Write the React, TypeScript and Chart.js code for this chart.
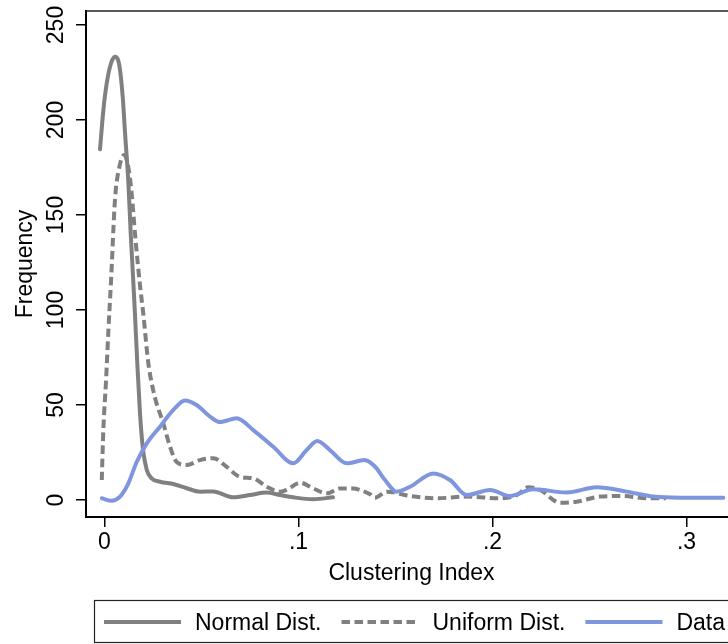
import React, { useEffect, useRef } from "react";
import { Chart, registerables } from "chart.js";

Chart.register(...registerables);

// Kernel-density style curves of the clustering index
const normalX = [-0.0023, -0.0006, 0.0011, 0.0034, 0.0054, 0.0076, 0.0094, 0.0106, 0.0123, 0.0135, 0.0148, 0.0157, 0.0169, 0.0183, 0.0197, 0.0218, 0.0243, 0.0286, 0.0355, 0.0424, 0.0492, 0.056, 0.0662, 0.075, 0.0836, 0.0905, 0.0973, 0.1075, 0.1178];
const normalY = [184.6, 205, 219, 230, 233.3, 229, 212, 193, 167, 140.5, 115.8, 98, 72, 45.6, 28, 15.8, 11.4, 9.6, 8.4, 6.2, 4.4, 4.5, 1.4, 2.6, 3.9, 2.6, 1.4, 0.4, 1.4];

const uniformX = [-0.0014, -0.0006, 0.0008, 0.002, 0.0034, 0.0054, 0.0076, 0.0101, 0.0123, 0.014, 0.0157, 0.0183, 0.02, 0.0226, 0.026, 0.0303, 0.0338, 0.0372, 0.0424, 0.0492, 0.0561, 0.063, 0.0698, 0.0767, 0.0836, 0.0905, 0.0939, 0.1008, 0.1076, 0.1145, 0.1214, 0.1282, 0.1317, 0.1369, 0.1394, 0.1455, 0.1575, 0.1712, 0.1867, 0.2039, 0.2125, 0.2185, 0.2245, 0.2348, 0.2434, 0.2554, 0.2674, 0.2795, 0.2894];
const uniformY = [10.5, 36.8, 63, 89, 116, 158, 175, 181.6, 175, 161.4, 140.4, 113, 98, 72, 54, 40.4, 28, 20, 18.4, 21, 22, 17.4, 12.2, 11.4, 7, 4.4, 5.3, 9.1, 6.1, 3.5, 6.1, 6.1, 5.3, 3, 1.2, 4.4, 2.1, 0.9, 1.8, 0.9, 2.6, 6.7, 5.3, -1.4, -0.9, 1.8, 2.1, 0.9, 0.9];

const dataX = [-0.0014, 0.0037, 0.008, 0.0123, 0.0166, 0.0218, 0.0286, 0.0355, 0.0415, 0.0475, 0.0544, 0.0595, 0.0681, 0.0767, 0.087, 0.0973, 0.1042, 0.1097, 0.1162, 0.1248, 0.134, 0.1395, 0.1446, 0.1506, 0.1575, 0.1695, 0.1781, 0.1867, 0.1987, 0.209, 0.221, 0.2382, 0.2537, 0.2692, 0.2829, 0.2966, 0.319];
const dataY = [0.9, -0.4, 1.8, 8.8, 20, 29.8, 38.6, 47.4, 52.4, 50, 43.9, 41, 43, 36.8, 28, 19.3, 26.3, 31, 26.3, 19.3, 21, 17.5, 10.5, 4.4, 7, 14, 10.5, 2.6, 5.3, 2.1, 5.6, 4, 6.7, 4.4, 1.8, 1.2, 1.2];

const seriesNames = ["Normal Dist.", "Uniform Dist.", "Data"];
const xTicks = [0, 0.1, 0.2, 0.3];
const xTickLabels = ["0", ".1", ".2", ".3"];
const yTicks = [0, 50, 100, 150, 200, 250];
const yTickLabels = ["0", "50", "100", "150", "200", "250"];
const xTitle = "Clustering Index";
const yTitle = "Frequency";

const GRAY = "#808080";
const BLUE = "rgb(127,150,222)";
const FONT = '23px "Liberation Sans", Arial, sans-serif';
const DASH = [8.5, 4.5];

const toPoints = (xs: number[], ys: number[]) => xs.map((x, i) => ({ x, y: ys[i] }));

// Rotated y labels, axis titles, frame top and the boxed legend
const annotations = {
  id: "annotations",
  afterDraw(chart: any) {
    const ctx = chart.ctx as CanvasRenderingContext2D;
    const xs = chart.scales.x;
    const ys = chart.scales.y;
    const area = chart.chartArea;
    ctx.save();

    // top edge of the plot region
    ctx.strokeStyle = "#222";
    ctx.lineWidth = 1.5;
    ctx.beginPath();
    ctx.moveTo(area.left, area.top);
    ctx.lineTo(chart.width + 10, area.top);
    ctx.stroke();

    ctx.fillStyle = "#000";
    ctx.font = FONT;
    ctx.textAlign = "center";
    ctx.textBaseline = "alphabetic";

    xTicks.forEach((v, i) => {
      ctx.fillText(xTickLabels[i], xs.getPixelForValue(v), 548.5);
    });

    yTicks.forEach((v, i) => {
      ctx.save();
      ctx.translate(63, ys.getPixelForValue(v));
      ctx.rotate(-Math.PI / 2);
      ctx.fillText(yTickLabels[i], 0, 0);
      ctx.restore();
    });

    ctx.fillText(xTitle, 411.5, 580);

    ctx.save();
    ctx.translate(31.5, (area.top + area.bottom) / 2);
    ctx.rotate(-Math.PI / 2);
    ctx.fillText(yTitle, 0, 0);
    ctx.restore();

    // legend
    ctx.strokeStyle = "#222";
    ctx.lineWidth = 1.2;
    ctx.strokeRect(94.5, 600.5, 720, 42);

    const styles = [
      { color: GRAY, dash: [] as number[] },
      { color: GRAY, dash: DASH },
      { color: BLUE, dash: [] as number[] },
    ];
    let x = 104;
    const ly = 622;
    ctx.textAlign = "left";
    seriesNames.forEach((name, i) => {
      ctx.strokeStyle = styles[i].color;
      ctx.lineWidth = 4;
      ctx.setLineDash(styles[i].dash);
      ctx.lineCap = "butt";
      ctx.beginPath();
      ctx.moveTo(x, ly);
      ctx.lineTo(x + 77, ly);
      ctx.stroke();
      ctx.setLineDash([]);
      ctx.fillStyle = "#000";
      ctx.fillText(name, x + 91, 629.5);
      x = x + 91 + ctx.measureText(name).width + 20;
    });

    ctx.restore();
  },
};

export default function App() {
  const canvasRef = useRef<HTMLCanvasElement | null>(null);

  useEffect(() => {
    const canvas = canvasRef.current;
    if (!canvas) return;

    const chart = new Chart(canvas, {
      type: "line",
      data: {
        datasets: [
          {
            label: seriesNames[0],
            data: toPoints(normalX, normalY),
            borderColor: GRAY,
            borderWidth: 4,
            borderCapStyle: "round",
            borderJoinStyle: "round",
            pointRadius: 0,
            cubicInterpolationMode: "monotone",
            fill: false,
            order: 3,
          },
          {
            label: seriesNames[1],
            data: toPoints(uniformX, uniformY),
            borderColor: GRAY,
            borderWidth: 4,
            borderDash: DASH,
            borderCapStyle: "butt",
            borderJoinStyle: "round",
            pointRadius: 0,
            cubicInterpolationMode: "monotone",
            fill: false,
            order: 2,
          },
          {
            label: seriesNames[2],
            data: toPoints(dataX, dataY),
            borderColor: BLUE,
            borderWidth: 4,
            borderCapStyle: "round",
            borderJoinStyle: "round",
            pointRadius: 0,
            cubicInterpolationMode: "monotone",
            fill: false,
            order: 1,
          },
        ],
      },
      options: {
        responsive: false,
        animation: false,
        events: [],
        layout: { padding: { top: 11, left: 0, right: 0, bottom: 0 } },
        plugins: {
          legend: { display: false },
          tooltip: { enabled: false },
          title: { display: false },
        },
        scales: {
          x: {
            type: "linear",
            min: -0.009536,
            max: 0.32139,
            afterBuildTicks: (scale: any) => {
              scale.ticks = xTicks.map((value) => ({ value }));
            },
            afterFit: (scale: any) => {
              scale.height = 127;
            },
            ticks: { display: false },
            grid: {
              drawOnChartArea: false,
              drawTicks: true,
              tickLength: 10,
              color: "#000",
              lineWidth: 1.5,
            },
            border: { display: true, color: "#000", width: 2 },
          },
          y: {
            type: "linear",
            min: -8.947,
            max: 257.37,
            afterBuildTicks: (scale: any) => {
              scale.ticks = yTicks.map((value) => ({ value }));
            },
            afterFit: (scale: any) => {
              scale.width = 86;
            },
            ticks: { display: false },
            grid: {
              drawOnChartArea: false,
              drawTicks: true,
              tickLength: 10,
              color: "#000",
              lineWidth: 1.5,
            },
            border: { display: true, color: "#000", width: 2 },
          },
        },
      },
      plugins: [annotations],
    });

    return () => chart.destroy();
  }, []);

  return (
    <div style={{ position: "absolute", left: 0, top: 0, width: 728, height: 644, background: "#fff" }}>
      <canvas ref={canvasRef} width={728} height={644} style={{ display: "block" }} />
    </div>
  );
}
